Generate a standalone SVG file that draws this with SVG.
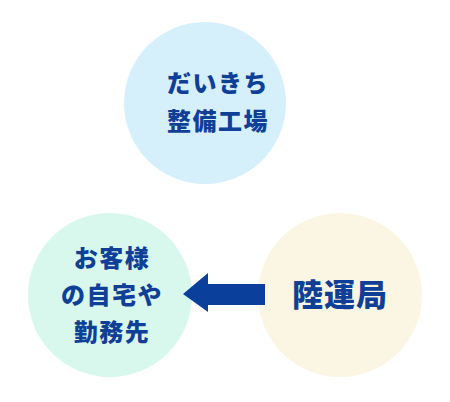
<svg xmlns="http://www.w3.org/2000/svg" width="450" height="402" viewBox="0 0 450 402">
<style>
.t{font-family:"Noto Sans CJK JP","Noto Sans CJK SC",sans-serif;font-weight:900;fill:#0f3f96;text-anchor:middle}
.s{font-size:24px;letter-spacing:1.5px}
.l{font-size:31px;letter-spacing:1px}
</style>
<rect width="450" height="402" fill="#ffffff"/>
<g id="node-factory">
<circle cx="205" cy="103" r="81" fill="#d5effb"/>
<text class="t s" x="218" y="92">だいきち</text>
<text class="t s" x="218" y="130">整備工場</text>
</g>
<g id="node-customer">
<circle cx="110" cy="295" r="82" fill="#d8f8ee"/>
<text class="t s" x="112" y="267">お客様</text>
<text class="t s" x="112" y="304">の自宅や</text>
<text class="t s" x="112" y="341">勤務先</text>
</g>
<g id="node-bureau">
<circle cx="340" cy="295" r="82" fill="#fbf6e3"/>
<text class="t l" x="340" y="306">陸運局</text>
</g>
<g id="connectors">
<polygon points="265,284 208,284 208,273 183,294 208,312 208,305 265,305" fill="#0a3f9c"/>
</g>
</svg>
